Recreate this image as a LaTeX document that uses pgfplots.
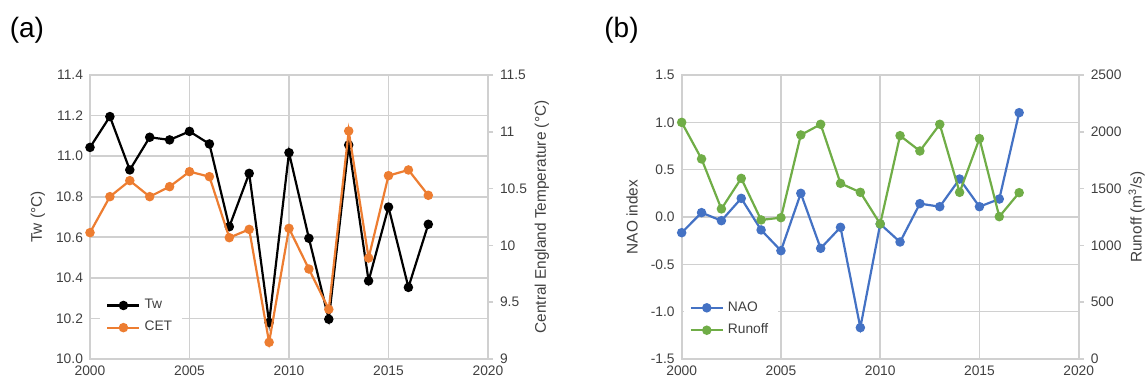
\documentclass[border=0pt]{standalone}
\usepackage{pgfplots}
\pgfplotsset{compat=1.18}
\usepackage{fontspec}
\setmainfont{Liberation Sans}
\definecolor{cgrid}{HTML}{D0D0D0}
\definecolor{ctext}{HTML}{404040}
\definecolor{corange}{HTML}{ED7D31}
\definecolor{cblue}{HTML}{4472C4}
\definecolor{cgreen}{HTML}{70AD47}
\newcommand{\sz}{\fontsize{6.9}{8.2}\selectfont}
\newcommand{\lsz}{\fontsize{7.7}{9}\selectfont}
\pgfplotsset{
  basepanel/.style={scale only axis, width=199pt, height=142pt, anchor=south west,
    xmin=2000, xmax=2020,
    /pgf/number format/assume math mode=true,
    tick label style={font=\sz, text=ctext},
    label style={font=\lsz, text=ctext},
    axis line style={cgrid, line width=0.8pt},
    clip=false,
  },
  panelL/.style={basepanel, xtick={2000,2005,...,2020},
    x tick label style={/pgf/number format/1000 sep={}},
    grid=major, major grid style={cgrid, line width=0.8pt},
    major tick length=0pt, tick style={draw=none},
    y tick label style={/pgf/number format/fixed, /pgf/number format/fixed zerofill, /pgf/number format/precision=1},
  },
  panelR/.style={basepanel, axis x line=none, axis y line*=right, tick align=outside,
    major tick length=2.5pt, ytick pos=right, tick style={cgrid, line width=0.8pt},
    y tick label style={/pgf/number format/1000 sep={}},
    legend cell align=left,
  },
  ser/.style={line width=1.1pt, mark=*, mark size=1.8pt, mark options={solid}},
  legend image code/.code={\draw[mark repeat=2, mark phase=2, #1] plot coordinates {(0pt,0pt) (8pt,0pt) (16pt,0pt)};},
}
\begin{document}
\begin{tikzpicture}
\path[use as bounding box] (0,0) rectangle (573.5pt,191.5pt);
\node[anchor=west, inner sep=0pt, font=\fontsize{14}{16}\selectfont] at (4.7pt,176.2pt) {(a)};
\node[anchor=west, inner sep=0pt, font=\fontsize{14}{16}\selectfont] at (302pt,176.2pt) {(b)};
% ---------- panel (a)
\begin{axis}[panelL, at={(45pt,12pt)}, ymin=10, ymax=11.4,
  ytick={10,10.2,10.4,10.6,10.8,11,11.2,11.4},
  ylabel={Tw (°C)}, ylabel style={at={(axis description cs:-0.1307,0.5)}, anchor=center}]
\addplot[ser, black] coordinates {
(2000,11.043) (2001,11.195) (2002,10.932) (2003,11.093) (2004,11.080) (2005,11.122)
(2006,11.060) (2007,10.652) (2008,10.915) (2009,10.180) (2010,11.017) (2011,10.595)
(2012,10.196) (2013,11.055) (2014,10.385) (2015,10.749) (2016,10.353) (2017,10.664)};
\end{axis}
\begin{axis}[panelR, at={(45pt,12pt)}, ymin=9, ymax=11.5,
  ytick={9,9.5,10,10.5,11,11.5},
  ylabel={Central England Temperature (°C)}, ylabel style={at={(axis description cs:1.1357,0.5)}, anchor=center},
  legend style={at={(axis description cs:0.025,0.24)}, anchor=north west, draw=none, fill=white,
    font=\sz, text=ctext, row sep=0.8pt}]
\addlegendimage{ser, black}
\addplot[ser, corange] coordinates {
(2000,10.112) (2001,10.429) (2002,10.570) (2003,10.429) (2004,10.517) (2005,10.649)
(2006,10.605) (2007,10.068) (2008,10.141) (2009,9.147) (2010,10.150) (2011,9.792)
(2012,9.437) (2013,11.007) (2014,9.889) (2015,10.614) (2016,10.664) (2017,10.441)};
\legend{Tw, CET}
\end{axis}
% ---------- panel (b)
\begin{axis}[panelL, at={(340.85pt,12pt)}, width=198.5pt, ymin=-1.5, ymax=1.5,
  ytick={-1.5,-1,-0.5,0,0.5,1,1.5},
  ylabel={NAO index}, ylabel style={at={(axis description cs:-0.1252,0.5)}, anchor=center}]
\addplot[ser, cblue] coordinates {
(2000,-0.166) (2001,0.046) (2002,-0.039) (2003,0.197) (2004,-0.137) (2005,-0.356)
(2006,0.250) (2007,-0.331) (2008,-0.109) (2009,-1.169) (2010,-0.074) (2011,-0.264)
(2012,0.141) (2013,0.109) (2014,0.401) (2015,0.109) (2016,0.190) (2017,1.102)};
\end{axis}
\begin{axis}[panelR, at={(340.85pt,12pt)}, width=198.5pt, ymin=0, ymax=2500,
  ytick={0,500,1000,1500,2000,2500},
  ylabel={Runoff (m\textsuperscript{3}/s)}, ylabel style={at={(axis description cs:1.146,0.5)}, anchor=center},
  legend style={at={(axis description cs:0.004,0.232)}, anchor=north west, draw=none, fill=white,
    font=\sz, text=ctext, row sep=0.8pt}]
\addlegendimage{ser, cblue}
\addplot[ser, cgreen] coordinates {
(2000,2083) (2001,1761) (2002,1321) (2003,1590) (2004,1224) (2005,1244)
(2006,1972) (2007,2066) (2008,1546) (2009,1467) (2010,1189) (2011,1966)
(2012,1831) (2013,2066) (2014,1467) (2015,1940) (2016,1253) (2017,1464)};
\legend{NAO, Runoff}
\end{axis}
\end{tikzpicture}
\end{document}
